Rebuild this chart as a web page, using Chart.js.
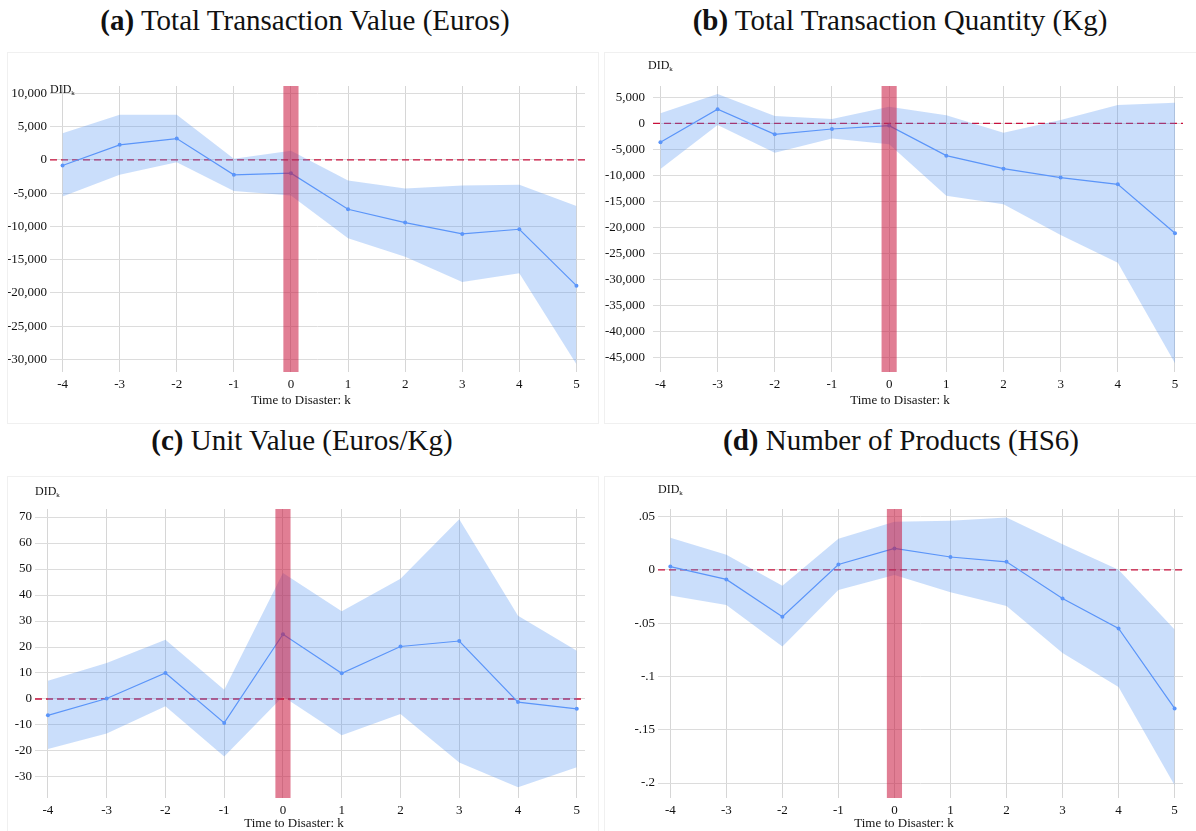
<!DOCTYPE html>
<html>
<head>
<meta charset="utf-8">
<script src="https://cdn.jsdelivr.net/npm/chart.js@4.4.1/dist/chart.umd.min.js"></script>
<style>
  body { margin: 0; background: #fff; width: 1196px; height: 831px; overflow: hidden; position: relative; font-family: "Liberation Serif", "Times New Roman", serif; color: #111; }
  .title { position: absolute; width: 598px; text-align: center; font-size: 29px; line-height: 32px; white-space: nowrap; }
  .panel { position: absolute; box-shadow: 0 0 0 1px #f0f0f0; }
  .did { position: absolute; font-size: 12px; line-height: 12px; }
  .did sub { font-size: 7px; vertical-align: -2px; }
  .xlab { position: absolute; width: 200px; text-align: center; font-size: 13px; line-height: 13px; }
</style>
</head>
<body>
<div class="title" style="left:6px;top:4px"><b>(a)</b> Total Transaction Value (Euros)</div>
<div class="title" style="left:601px;top:4px"><b>(b)</b> Total Transaction Quantity (Kg)</div>
<div class="title" style="left:3px;top:424px"><b>(c)</b> Unit Value (Euros/Kg)</div>
<div class="title" style="left:602px;top:424px"><b>(d)</b> Number of Products (HS6)</div>

<div class="panel" style="left:8px;top:53px;width:590px;height:370px"><canvas id="chartA"></canvas></div>
<div class="panel" style="left:605px;top:53px;width:591px;height:370px"><canvas id="chartB"></canvas></div>
<div class="panel" style="left:8px;top:477px;width:590px;height:354px"><canvas id="chartC"></canvas></div>
<div class="panel" style="left:605px;top:477px;width:591px;height:354px"><canvas id="chartD"></canvas></div>

<div class="did" style="left:50px;top:83px">DID<sub>k</sub></div>
<div class="did" style="left:648px;top:59px">DID<sub>k</sub></div>
<div class="did" style="left:35px;top:485px">DID<sub>k</sub></div>
<div class="did" style="left:658px;top:483px">DID<sub>k</sub></div>

<div class="xlab" style="left:201px;top:393px">Time to Disaster: k</div>
<div class="xlab" style="left:800px;top:393px">Time to Disaster: k</div>
<div class="xlab" style="left:194px;top:816px">Time to Disaster: k</div>
<div class="xlab" style="left:804px;top:816px">Time to Disaster: k</div>

<script>
// time to disaster
var ks = [-4, -3, -2, -1, 0, 1, 2, 3, 4, 5];

// (a) total transaction value, euros
var valueCoef  = [-850, 2250, 3200, -2250, -2000, -7430, -9440, -11140, -10440, -18920];
var valueUpper = [4000, 6780, 6780, 150, 1350, -3110, -4310, -3860, -3760, -6930];
var valueLower = [-5500, -2260, -350, -4670, -5370, -11800, -14560, -18370, -17070, -30720];
var valueTicks = [-30000, -25000, -20000, -15000, -10000, -5000, 0, 5000, 10000];

// (b) total transaction quantity, kg
var qtyCoef  = [-3660, 2690, -2120, -1100, -450, -6220, -8720, -10450, -11730, -21160];
var qtyUpper = [1920, 5630, 1400, 830, 3200, 1540, -1800, 640, 3520, 3970];
var qtyLower = [-8790, -330, -5650, -2950, -4040, -13920, -15580, -21480, -26800, -46150];
var qtyTicks = [-45000, -40000, -35000, -30000, -25000, -20000, -15000, -10000, -5000, 0, 5000];

// (c) unit value, euros/kg
var unitCoef  = [-6.3, 0.2, 10.0, -9.2, 24.9, 9.9, 20.2, 22.3, -1.2, -3.8];
var unitUpper = [7.0, 13.8, 22.8, 3.6, 48.5, 33.8, 46.3, 69.2, 32.0, 18.6];
var unitLower = [-19.2, -13.3, -2.8, -22.1, 1.0, -14.0, -5.8, -24.4, -34.0, -26.3];
var unitTicks = [-30, -20, -10, 0, 10, 20, 30, 40, 50, 60, 70];

// (d) number of products (HS6)
var prodCoef  = [0.003, -0.009, -0.044, 0.005, 0.020, 0.012, 0.0075, -0.027, -0.055, -0.130];
var prodUpper = [0.030, 0.014, -0.015, 0.029, 0.045, 0.046, 0.049, 0.024, 0.000, -0.056];
var prodLower = [-0.024, -0.033, -0.072, -0.019, -0.005, -0.021, -0.034, -0.078, -0.110, -0.202];
var prodTicks = [-0.2, -0.15, -0.1, -0.05, 0, 0.05];

var disasterK = 0;

function pts(xs, ys) {
  return xs.map(function(x, i) { return { x: x, y: ys[i] }; });
}

function commas(v) { return v.toLocaleString('en-US'); }
function dotDecimal(v) {
  if (v === 0) return '0';
  return String(+v.toFixed(2)).replace('0.', '.');
}

function fixTicks(values) {
  return function(scale) {
    scale.ticks = values.map(function(v) { return { value: v }; });
  };
}

var tickFont = { family: '"Liberation Serif", "Times New Roman", serif', size: 13 };

function makeChart(id, coef, upper, lower, yTicks, s) {
  var ctx = document.getElementById(id).getContext('2d');
  return new Chart(ctx, {
    type: 'line',
    data: {
      datasets: [
        {
          type: 'bar',
          data: [{ x: disasterK, y: [s.yMin, s.yMax] }],
          backgroundColor: 'rgba(200,20,60,0.55)',
          borderWidth: 0,
          barThickness: 14.5,
          order: 0
        },
        {
          data: pts(ks, coef),
          borderColor: '#5b95f9',
          borderWidth: 1.2,
          pointRadius: 2,
          pointBorderWidth: 0,
          pointBackgroundColor: '#5b95f9',
          order: 1
        },
        {
          data: pts(ks, upper),
          borderColor: 'rgba(0,0,0,0)',
          borderWidth: 0,
          pointRadius: 0,
          fill: '+1',
          backgroundColor: 'rgba(78,145,242,0.3)',
          order: 2
        },
        {
          data: pts(ks, lower),
          borderColor: 'rgba(0,0,0,0)',
          borderWidth: 0,
          pointRadius: 0,
          fill: false,
          order: 2
        },
        {
          data: [{ x: s.xMin, y: 0 }, { x: s.xMax, y: 0 }],
          borderColor: '#c8103c',
          borderDash: [7, 4],
          borderWidth: 1.3,
          pointRadius: 0,
          order: 5
        }
      ]
    },
    options: {
      responsive: true,
      maintainAspectRatio: false,
      animation: false,
      events: [],
      layout: { padding: { top: s.padTop, right: s.padRight, left: 0, bottom: 0 } },
      plugins: { legend: { display: false }, tooltip: { enabled: false } },
      scales: {
        x: {
          type: 'linear',
          offset: false,
          min: s.xMin,
          max: s.xMax,
          afterBuildTicks: fixTicks(ks),
          ticks: { autoSkip: false, maxRotation: 0, padding: 5, font: tickFont, color: '#111' },
          grid: { color: '#d6d6d6', drawTicks: false, offset: false },
          border: { display: false },
          afterFit: function(scale) { scale.height = s.xHeight; }
        },
        y: {
          min: s.yMin,
          max: s.yMax,
          afterBuildTicks: fixTicks(yTicks),
          ticks: { autoSkip: false, padding: s.yPad, font: tickFont, color: '#111', callback: s.fmt },
          grid: { color: '#dcdcdc', drawTicks: false },
          border: { display: false },
          afterFit: function(scale) { scale.width = s.yWidth; }
        }
      }
    }
  });
}

makeChart('chartA', valueCoef, valueUpper, valueLower, valueTicks, {
  xMin: -4.22, xMax: 5.15, yMin: -31900, yMax: 11100, fmt: commas,
  yWidth: 42, yPad: 3, padTop: 33, padRight: 13, xHeight: 51
});
makeChart('chartB', qtyCoef, qtyUpper, qtyLower, qtyTicks, {
  xMin: -4.13, xMax: 5.14, yMin: -47830, yMax: 7170, fmt: commas,
  yWidth: 48, yPad: 8, padTop: 33, padRight: 13, xHeight: 51
});
makeChart('chartC', unitCoef, unitUpper, unitLower, unitTicks, {
  xMin: -4.22, xMax: 5.14, yMin: -38.1, yMax: 73.1, fmt: function(v) { return String(v); },
  yWidth: 27, yPad: 3, padTop: 32, padRight: 13, xHeight: 33
});
makeChart('chartD', prodCoef, prodUpper, prodLower, prodTicks, {
  xMin: -4.22, xMax: 5.15, yMin: -0.214, yMax: 0.057, fmt: dotDecimal,
  yWidth: 53, yPad: 3, padTop: 32, padRight: 13, xHeight: 33
});
</script>
</body>
</html>
